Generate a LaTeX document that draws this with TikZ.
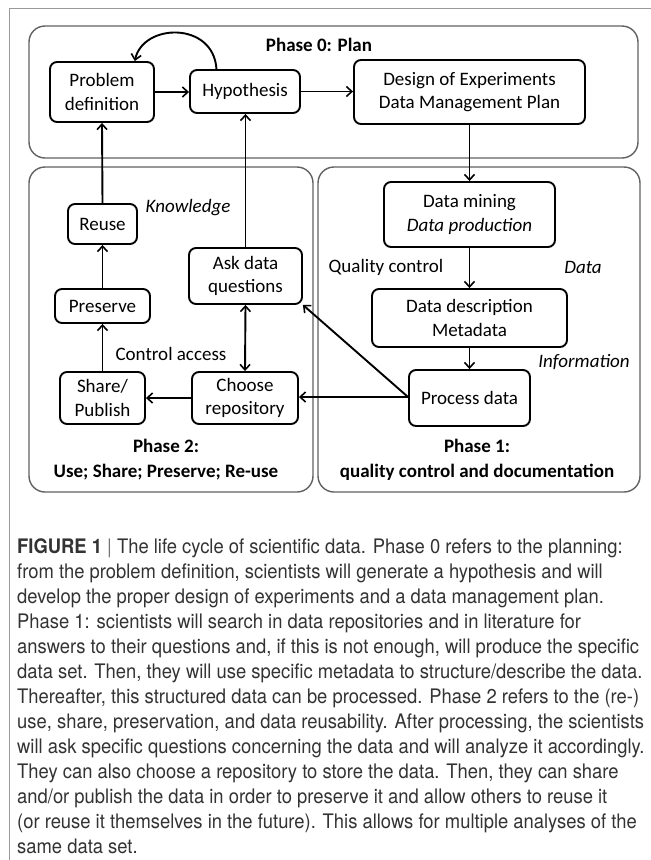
\documentclass[tikz,border=0pt]{standalone}
\usepackage{fontspec}
\setmainfont{Carlito}
\newfontfamily\capfont[FakeStretch=0.92]{TeX Gyre Heros}
\usetikzlibrary{arrows.meta,calc}
\begin{document}
\begin{tikzpicture}[x=1pt,y=-1pt,
  box/.style={draw=black,line width=1.9pt,rounded corners=7pt,inner sep=0pt,align=center,font=\fontsize{19}{23.5}\selectfont},
  phase/.style={draw=black!62,line width=1.4pt,rounded corners=16pt,inner sep=0pt},
  lbl/.style={inner sep=0pt,align=center,font=\fontsize{19}{25}\selectfont},
  conn/.style={line width=1.9pt,-{Straight Barb[length=5.5pt,width=10pt,line width=1.6pt]}},
  dconn/.style={line width=1.9pt,{Straight Barb[length=5.5pt,width=10pt,line width=1.6pt]}-{Straight Barb[length=5.5pt,width=10pt,line width=1.6pt]}},
  capline/.style={anchor=base west,inner sep=0pt,font=\capfont\fontsize{20}{25}\selectfont,text=black!80}
]
\useasboundingbox (0,0) rectangle (651,860);
\fill[white] (0,0) rectangle (651,860);
\coordinate (fr1) at (651,8.5);
\coordinate (fr2) at (9,8.5);
\coordinate (fr3) at (9,860);
\draw[black!40,line width=1pt] (fr1) -- (fr2) -- (fr3);

% phase frames
\node[phase,minimum width=609pt,minimum height=132pt] (p0) at (333.5,92) {};
\node[phase,minimum width=284pt,minimum height=325pt] (p2) at (171,329.5) {};
\node[phase,minimum width=322pt,minimum height=325pt] (p1) at (479,329.5) {};

% phase 0
\node[lbl,font=\fontsize{19}{25}\selectfont\bfseries] (t0) at (319,45) {Phase 0: Plan};
\node[box,minimum width=104pt,minimum height=60pt] (pd) at (102,92) {Problem\\definition};
\node[box,minimum width=110pt,minimum height=43pt] (hyp) at (245,91.5) {Hypothesis};
\node[box,minimum width=231pt,minimum height=64pt] (doe) at (469.5,92) {Design of Experiments\\Data Management Plan};

% phase 1
\node[box,minimum width=171pt,minimum height=65pt] (dm) at (469.5,214.5) {Data mining\\\textit{Data production}};
\node[box,minimum width=195pt,minimum height=58pt] (dd) at (469.5,318) {Data description\\Metadata};
\node[box,minimum width=121pt,minimum height=56pt] (pr) at (469.5,398) {Process data};
\node[lbl] (qc) at (386,267) {Quality control};
\node[lbl] (dat) at (583,267) {\itshape Data};
\node[lbl] (inf) at (584,362) {\itshape Information};
\node[lbl,font=\fontsize{19}{25}\selectfont\bfseries] (t1) at (477,459.5) {Phase 1:\\quality control and documentation};

% phase 2
\node[box,minimum width=69pt,minimum height=40pt] (reuse) at (102.5,224) {Reuse};
\node[box,minimum width=95pt,minimum height=34pt] (pres) at (102.5,306) {Preserve};
\node[box,minimum width=113pt,minimum height=56pt] (ask) at (245.5,276) {Ask data\\questions};
\node[box,minimum width=85pt,minimum height=52pt] (share) at (102.5,398) {Share/\\Publish};
\node[box,minimum width=106pt,minimum height=52pt] (choose) at (245,398) {Choose\\repository};
\node[lbl] (know) at (188,208) {\itshape Knowledge};
\node[lbl] (ca) at (171,354) {Control access};
\node[lbl,font=\fontsize{19}{25}\selectfont\bfseries] (t2) at (166,459.5) {Phase 2:\\Use; Share; Preserve; Re-use};

% connectors
\draw[conn] (pd.east) -- (pd.east -| hyp.west);
\draw[conn] (hyp.east) -- (hyp.east -| doe.west);
\coordinate (hs) at ($(hyp.north west)!0.245!(hyp.north east)$);
\coordinate (pe) at ($(pd.north west)!0.81!(pd.north east)$);
\draw[conn] (hs) .. controls ($(hs)+(-3,-48)$) and ($(pe)+(8,-38)$) .. (pe);
\draw[conn] (doe.south) -- (dm.north);
\draw[conn] (dm.south) -- (dd.north);
\draw[conn] (dd.south) -- (pr.north);
\coordinate (pw) at ($(pr.west)+(0,-1)$);
\draw[conn] (pw) -- (pw -| choose.east);
\draw[conn] (pw) -- (ask.south east);
\draw[conn] (choose.west) -- (share.east);
\draw[dconn] (ask.south) -- (choose.north);
\draw[conn] (ask.north) -- (ask.north |- hyp.south);
\draw[conn] (share.north) -- (pres.south);
\draw[conn] (pres.north) -- (reuse.south);
\draw[conn] (reuse.north) -- (pd.south);

% caption
\node[capline] (c1) at (17,553) {\textbf{FIGURE 1} {\color{black!55}|} The life cycle of scientific data. Phase 0 refers to the planning:};
\node[capline] (c2) at (17,578) {from the problem definition, scientists will generate a hypothesis and will};
\node[capline] (c3) at (17,603) {develop the proper design of experiments and a data management plan.};
\node[capline] (c4) at (17,628) {Phase 1: scientists will search in data repositories and in literature for};
\node[capline] (c5) at (17,653) {answers to their questions and, if this is not enough, will produce the specific};
\node[capline] (c6) at (17,678) {data set. Then, they will use specific metadata to structure/describe the data.};
\node[capline] (c7) at (17,703) {Thereafter, this structured data can be processed. Phase 2 refers to the (re-)};
\node[capline] (c8) at (17,728) {use, share, preservation, and data reusability. After processing, the scientists};
\node[capline] (c9) at (17,753) {will ask specific questions concerning the data and will analyze it accordingly.};
\node[capline] (c10) at (17,778) {They can also choose a repository to store the data. Then, they can share};
\node[capline] (c11) at (17,803) {and/or publish the data in order to preserve it and allow others to reuse it};
\node[capline] (c12) at (17,828) {(or reuse it themselves in the future). This allows for multiple analyses of the};
\node[capline] (c13) at (17,853) {same data set.};
\end{tikzpicture}
\end{document}
